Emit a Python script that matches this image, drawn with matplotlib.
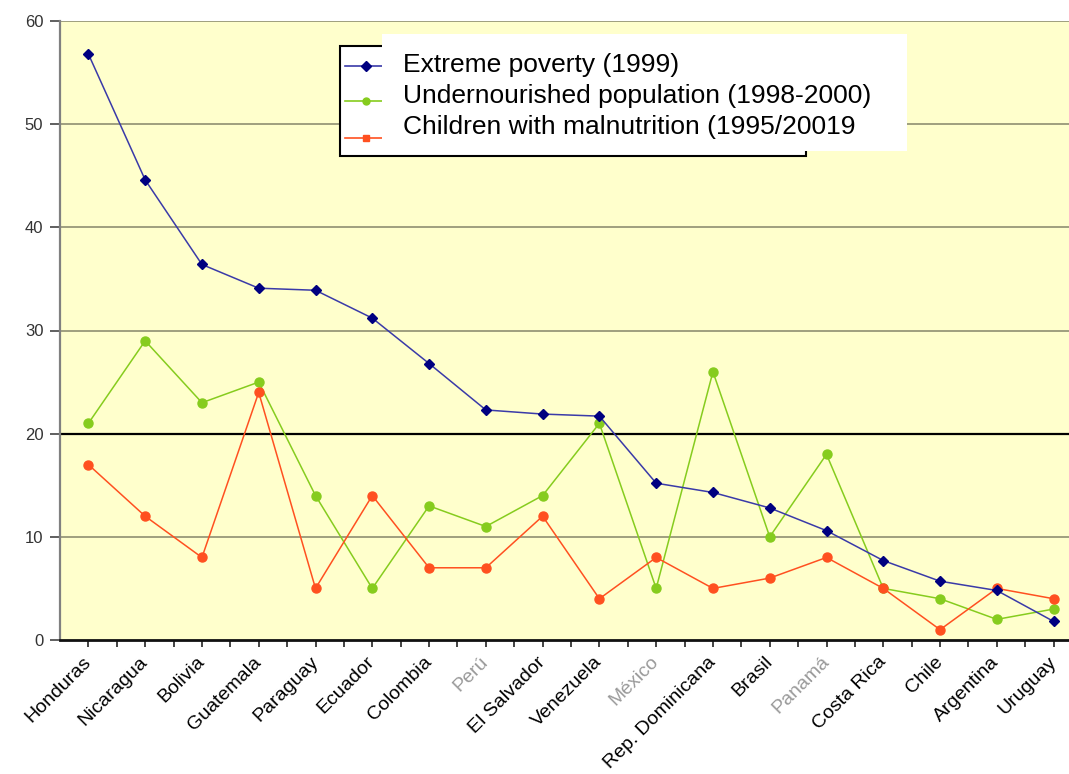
import numpy as np
import matplotlib
matplotlib.use("Agg")
import matplotlib.pyplot as plt
from matplotlib.patches import Rectangle
from matplotlib.lines import Line2D

plt.rcParams['font.family'] = ['Liberation Sans', 'DejaVu Sans']

countries = ['Honduras', 'Nicaragua', 'Bolivia', 'Guatemala', 'Paraguay', 'Ecuador',
             'Colombia', 'Perú', 'El Salvador', 'Venezuela', 'México', 'Rep. Dominicana',
             'Brasil', 'Panamá', 'Costa Rica', 'Chile', 'Argentina', 'Uruguay']
extreme_poverty = [56.8, 44.6, 36.4, 34.1, 33.9, 31.2, 26.8, 22.3, 21.9, 21.7,
                   15.2, 14.3, 12.8, 10.6, 7.7, 5.7, 4.8, 1.8]
undernourished = [21, 29, 23, 25, 14, 5, 13, 11, 14, 21, 5, 26, 10, 18, 5, 4, 2, 3]
malnutrition = [17, 12, 8, 24, 5, 14, 7, 7, 12, 4, 8, 5, 6, 8, 5, 1, 5, 4]
labels = ['Extreme poverty (1999)', 'Undernourished population (1998-2000)',
          'Children with malnutrition (1995/20019']

W, H = 1069, 774
fig = plt.figure(figsize=(W / 100, H / 100), dpi=100)
fig.patch.set_facecolor('white')

# plot area runs past the right border, like the original export
ax = fig.add_axes([60 / W, (H - 640) / H, (1082 - 60) / W, (640 - 21) / H])
ax.set_facecolor('#ffffcc')

x = np.arange(len(countries))
blue, green, orange = '#000080', '#86cc1e', '#ff5020'
ax.plot(x, extreme_poverty, color='#3a3aa8', lw=1.1, marker='D', ms=5,
        mfc=blue, mec=blue, zorder=4)
ax.plot(x, undernourished, color=green, lw=1.1, marker='o', ms=6.5,
        mfc=green, mec=green, zorder=3)
ax.plot(x, malnutrition, color=orange, lw=1.1, marker='o', ms=6.5,
        mfc=orange, mec=orange, zorder=3)

ax.set_xlim(-0.5, len(countries) - 0.5)
ax.set_ylim(0, 60)
ax.set_yticks(range(0, 61, 10))
for y in range(10, 61, 10):
    if y == 20:
        ax.axhline(y, color='black', lw=1.6, zorder=1)
    else:
        ax.axhline(y, color='#85856a', lw=1.1, zorder=1)

ax.set_xticks(x)
ax.set_xticks(x[:-1] + 0.5, minor=True)
ax.set_xticklabels(countries, rotation=45, ha='right', va='center',
                   rotation_mode='anchor', fontsize=14)
for t in ax.get_xticklabels():
    if t.get_text() in ('Perú', 'México', 'Panamá'):
        t.set_color('#9a9a9a')
ax.tick_params(axis='x', which='both', length=5, width=1.2, color='#222222', pad=9)
ax.tick_params(axis='y', length=7, width=1.2, color='#444444', labelsize=12,
               labelcolor='#333333', pad=5)

for side in ('top', 'right'):
    ax.spines[side].set_visible(False)
ax.spines['left'].set_color('#808080')
ax.spines['left'].set_linewidth(1.6)
ax.spines['bottom'].set_color('#111111')
ax.spines['bottom'].set_linewidth(2)

# legend: black framed box with keys, text block on a white panel over it
def fx(px):
    return px / W

def fy(py):
    return (H - py) / H

fig.patches.append(Rectangle((fx(340), fy(156)), fx(806) - fx(340), fy(46) - fy(156),
                             transform=fig.transFigure, facecolor='white',
                             edgecolor='black', lw=1.5, zorder=5))
key_rows = [66, 101, 138]
for py, c, m in zip(key_rows, ['#3a3aa8', green, orange], ['D', 'o', 's']):
    mc = blue if c == '#3a3aa8' else c
    fig.lines.append(Line2D([fx(345), fx(385)], [fy(py), fy(py)], color=c, lw=1.2,
                            transform=fig.transFigure, zorder=6))
    fig.lines.append(Line2D([fx(366)], [fy(py)], color=mc, marker=m, ms=5,
                            transform=fig.transFigure, zorder=6))
fig.patches.append(Rectangle((fx(382), fy(151)), fx(907) - fx(382), fy(34) - fy(151),
                             transform=fig.transFigure, facecolor='white',
                             edgecolor='none', zorder=7))
for py, lab in zip([65, 96, 127], labels):
    fig.text(fx(403), fy(py), lab, fontsize=19, va='center', ha='left',
             color='black', zorder=8)

fig.savefig('out.png', dpi=100)
